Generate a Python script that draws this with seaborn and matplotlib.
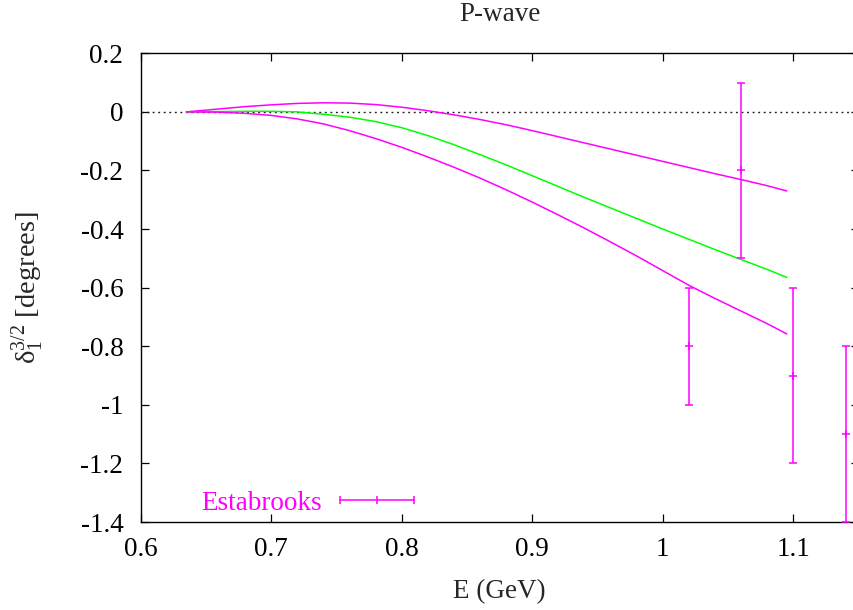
import numpy as np
import pandas as pd
import matplotlib
matplotlib.use('Agg')
import matplotlib.pyplot as plt
from matplotlib.ticker import FuncFormatter
import seaborn as sns

# P-wave phase shift curves (E in GeV)
energy = [0.635, 0.66, 0.68, 0.70, 0.72, 0.74, 0.76, 0.78, 0.80, 0.82, 0.84, 0.86,
          0.88, 0.90, 0.92, 0.94, 0.96, 0.98, 1.00, 1.02, 1.04, 1.06, 1.08, 1.095]
upper_band = [0.0, 0.010, 0.018, 0.024, 0.029, 0.031, 0.030, 0.025, 0.016, 0.004, -0.010, -0.026,
              -0.044, -0.064, -0.085, -0.106, -0.127, -0.148, -0.169, -0.190, -0.211, -0.231, -0.252, -0.270]
central = [0.0, 0.001, 0.002, 0.002, 0.0, -0.008, -0.018, -0.033, -0.054, -0.081, -0.112, -0.146,
           -0.181, -0.218, -0.255, -0.292, -0.328, -0.364, -0.400, -0.435, -0.470, -0.504, -0.538, -0.565]
lower_band = [0.0, -0.001, -0.005, -0.012, -0.024, -0.041, -0.064, -0.091, -0.121, -0.154, -0.189, -0.226,
              -0.266, -0.308, -0.352, -0.397, -0.444, -0.492, -0.542, -0.592, -0.637, -0.680, -0.723, -0.758]

# Estabrooks data points
estabrooks_e = [1.02, 1.06, 1.10, 1.14]
estabrooks_delta = [-0.8, -0.2, -0.9, -1.1]
estabrooks_err = [0.2, 0.3, 0.3, 0.3]

x_ticks = [0.6, 0.7, 0.8, 0.9, 1.0, 1.1]
y_ticks = [0.2, 0.0, -0.2, -0.4, -0.6, -0.8, -1.0, -1.2, -1.4]

MAGENTA = '#ff00ff'
GREEN = '#00ff00'
FS = 19.5

sns.set_theme(style='ticks')
plt.rcParams['font.family'] = ['Liberation Serif', 'DejaVu Serif']
plt.rcParams['mathtext.fontset'] = 'custom'
plt.rcParams['mathtext.rm'] = 'Liberation Serif'
plt.rcParams['mathtext.it'] = 'Liberation Serif:italic'
plt.rcParams['axes.unicode_minus'] = False

df = pd.DataFrame({
    'E': energy * 3,
    'delta': upper_band + central + lower_band,
    'curve': ['upper'] * len(energy) + ['central'] * len(energy) + ['lower'] * len(energy),
})

fig = plt.figure(figsize=(8.54, 6.10), dpi=100)
ax = fig.add_axes([140.7 / 854, 88 / 610, 717.9 / 854, 468.7 / 610])

ax.axhline(0, color='#222222', lw=1.0, ls=(0, (1.4, 2.6)), zorder=1)

sns.lineplot(data=df, x='E', y='delta', hue='curve', sort=False, estimator=None,
             palette={'upper': MAGENTA, 'central': GREEN, 'lower': MAGENTA},
             linewidth=1.1, legend=False, ax=ax, zorder=3)

ax.errorbar(estabrooks_e, estabrooks_delta, yerr=estabrooks_err, fmt='+', color=MAGENTA,
            ecolor=MAGENTA, elinewidth=1.1, capsize=2.8, capthick=1.1, markersize=5.5,
            markeredgewidth=1.1, zorder=4, clip_on=True)

# key, gnuplot style (text then horizontal error bar sample)
ax.text(0.2521, 0.0256, 'Estabrooks', color=MAGENTA, fontsize=FS, ha='right', va='baseline',
        transform=ax.transAxes)
ax.plot([0.278, 0.381], [0.0476, 0.0476], color=MAGENTA, lw=1.1, transform=ax.transAxes)
ax.plot([0.278, 0.381], [0.0476, 0.0476], ls='none', marker='|', markersize=5.5, mew=1.1,
        color=MAGENTA, transform=ax.transAxes)
ax.plot([0.329], [0.0476], ls='none', marker='|', markersize=5.5, mew=1.1,
        color=MAGENTA, transform=ax.transAxes)

ax.set_xlim(0.6, 1.15)
ax.set_ylim(-1.4, 0.2)
ax.set_xticks(x_ticks)
ax.set_yticks(y_ticks)
fmt = FuncFormatter(lambda v, _: '0' if abs(v) < 1e-9 else f'{round(v, 2):g}')
ax.xaxis.set_major_formatter(fmt)
ax.yaxis.set_major_formatter(fmt)

for side in ['left', 'right', 'top', 'bottom']:
    ax.spines[side].set_visible(True)
    ax.spines[side].set_linewidth(1.0)
    ax.spines[side].set_color('black')
ax.tick_params(direction='in', length=5.5, width=0.9, top=True, right=True,
               labelsize=FS, colors='black')
ax.tick_params(axis='x', pad=11)
ax.tick_params(axis='y', pad=12.5)

ax.set_title('P-wave', fontsize=FS, pad=23.5)
ax.set_xlabel('E (GeV)', fontsize=FS, va='baseline')
ax.xaxis.set_label_coords(0.5, -0.1622)
ax.set_ylabel(r'$\mathrm{δ}_{1}^{3/2}$ [degrees]', fontsize=FS + 1)
ax.yaxis.set_label_coords(-0.1319, 0.5)

fig.savefig('out.png', dpi=100)
